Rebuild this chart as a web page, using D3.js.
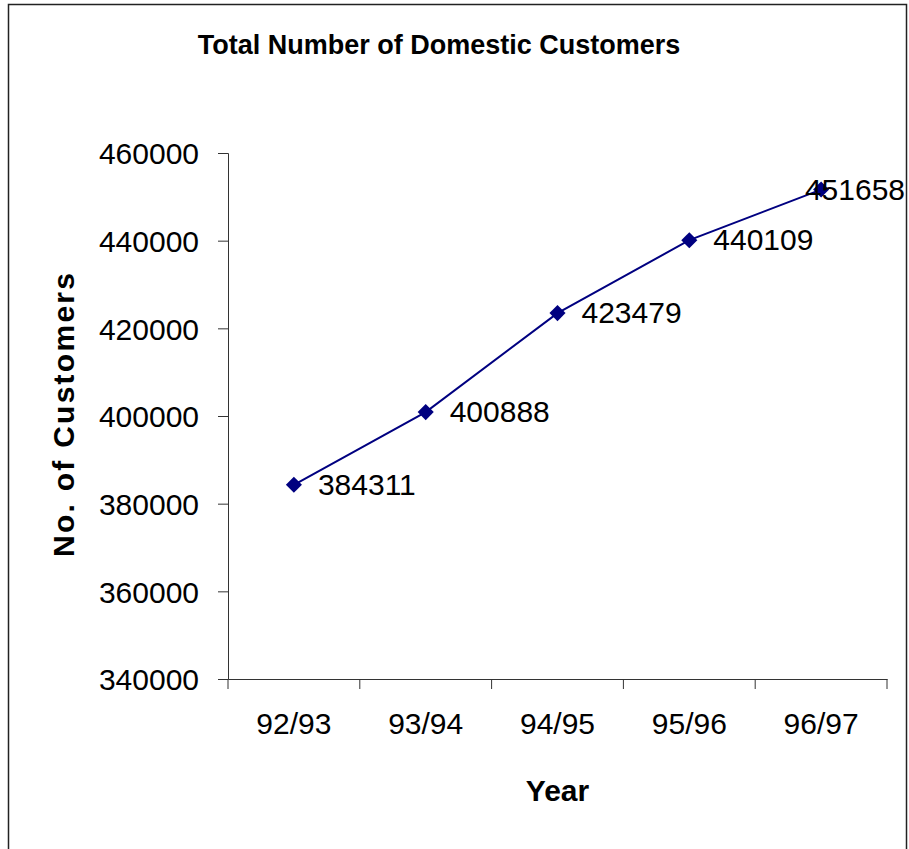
<!DOCTYPE html>
<html>
  <head>
    <title>Total Number of Domestic Customers</title>
    <script src="https://d3js.org/d3.v7.min.js" charset="utf-8"></script>
    <style>
      body {
        margin: 0;
        background: #fff;
      }
      text {
        font-family: "Liberation Sans", Arial, sans-serif;
        fill: #000;
      }
    </style>
  </head>
  <body>
    <svg></svg>
    <script>
      const years = ["92/93", "93/94", "94/95", "95/96", "96/97"];
      const customers = [384311, 400888, 423479, 440109, 451658];
      const yTicks = [340000, 360000, 380000, 400000, 420000, 440000, 460000];

      const W = 909, H = 849;
      const plot = { left: 228, right: 887, top: 153, bottom: 679 };

      const svg = d3.select("svg").attr("width", W).attr("height", H);

      // outer frame
      svg.append("rect")
        .attr("x", 8.5).attr("y", 4.5)
        .attr("width", 898).attr("height", 860)
        .attr("fill", "none")
        .attr("stroke", "#222")
        .attr("stroke-width", 1.5);

      const x = d3.scaleBand().domain(years).range([plot.left, plot.right]);
      const y = d3.scaleLinear().domain([340000, 460000]).range([plot.bottom, plot.top]);

      // y axis
      const yAxis = svg.append("g")
        .attr("transform", `translate(${plot.left},0)`)
        .call(d3.axisLeft(y).tickValues(yTicks).tickSize(10).tickPadding(19).tickFormat(d3.format("d")));
      yAxis.selectAll("text").style("font-size", "30px").attr("dy", "0.36em");

      // x axis with ticks between categories
      const xAxis = svg.append("g")
        .attr("transform", `translate(0,${plot.bottom})`)
        .call(d3.axisBottom(x).tickSize(0).tickPadding(34));
      xAxis.selectAll("text").style("font-size", "30px");
      const bounds = years.map((d) => x(d)).concat([x(years[years.length - 1]) + x.bandwidth()]);
      xAxis.selectAll(".sep")
        .data(bounds)
        .enter()
        .append("line")
        .attr("class", "sep")
        .attr("x1", (d) => d).attr("x2", (d) => d)
        .attr("y1", 0).attr("y2", 10)
        .attr("stroke", "#333");

      svg.selectAll(".domain").attr("stroke", "#333");
      svg.selectAll(".tick line").attr("stroke", "#333");

      // line
      const cx = (i) => x(years[i]) + x.bandwidth() / 2;
      const line = d3.line()
        .x((d, i) => cx(i))
        .y((d) => y(d));

      svg.append("path")
        .datum(customers)
        .attr("fill", "none")
        .attr("stroke", "#000080")
        .attr("stroke-width", 2)
        .attr("d", line);

      svg.selectAll(".pt")
        .data(customers)
        .enter()
        .append("path")
        .attr("class", "pt")
        .attr("d", d3.symbol(d3.symbolDiamond2, 165)())
        .attr("transform", (d, i) => `translate(${cx(i)},${y(d)})`)
        .attr("fill", "#000080");

      // value labels, pushed back inside the frame if they would overflow
      svg.selectAll(".lbl")
        .data(customers)
        .enter()
        .append("text")
        .attr("class", "lbl")
        .attr("y", (d) => y(d) + 10)
        .style("font-size", "30px")
        .text((d) => d)
        .attr("x", function (d, i) {
          const w = this.getComputedTextLength();
          return Math.min(cx(i) + 24, 905 - w);
        });

      // titles
      svg.append("text")
        .attr("x", 439).attr("y", 54)
        .attr("text-anchor", "middle")
        .style("font-size", "27px")
        .style("font-weight", "bold")
        .text("Total Number of Domestic Customers");

      svg.append("text")
        .attr("x", (plot.left + plot.right) / 2).attr("y", 801)
        .attr("text-anchor", "middle")
        .style("font-size", "30px")
        .style("font-weight", "bold")
        .text("Year");

      svg.append("text")
        .attr("transform", "translate(74,415) rotate(-90)")
        .attr("text-anchor", "middle")
        .style("font-size", "30px")
        .style("font-weight", "bold")
        .attr("textLength", 284)
        .attr("lengthAdjust", "spacing")
        .text("No. of Customers");
    </script>
  </body>
</html>
